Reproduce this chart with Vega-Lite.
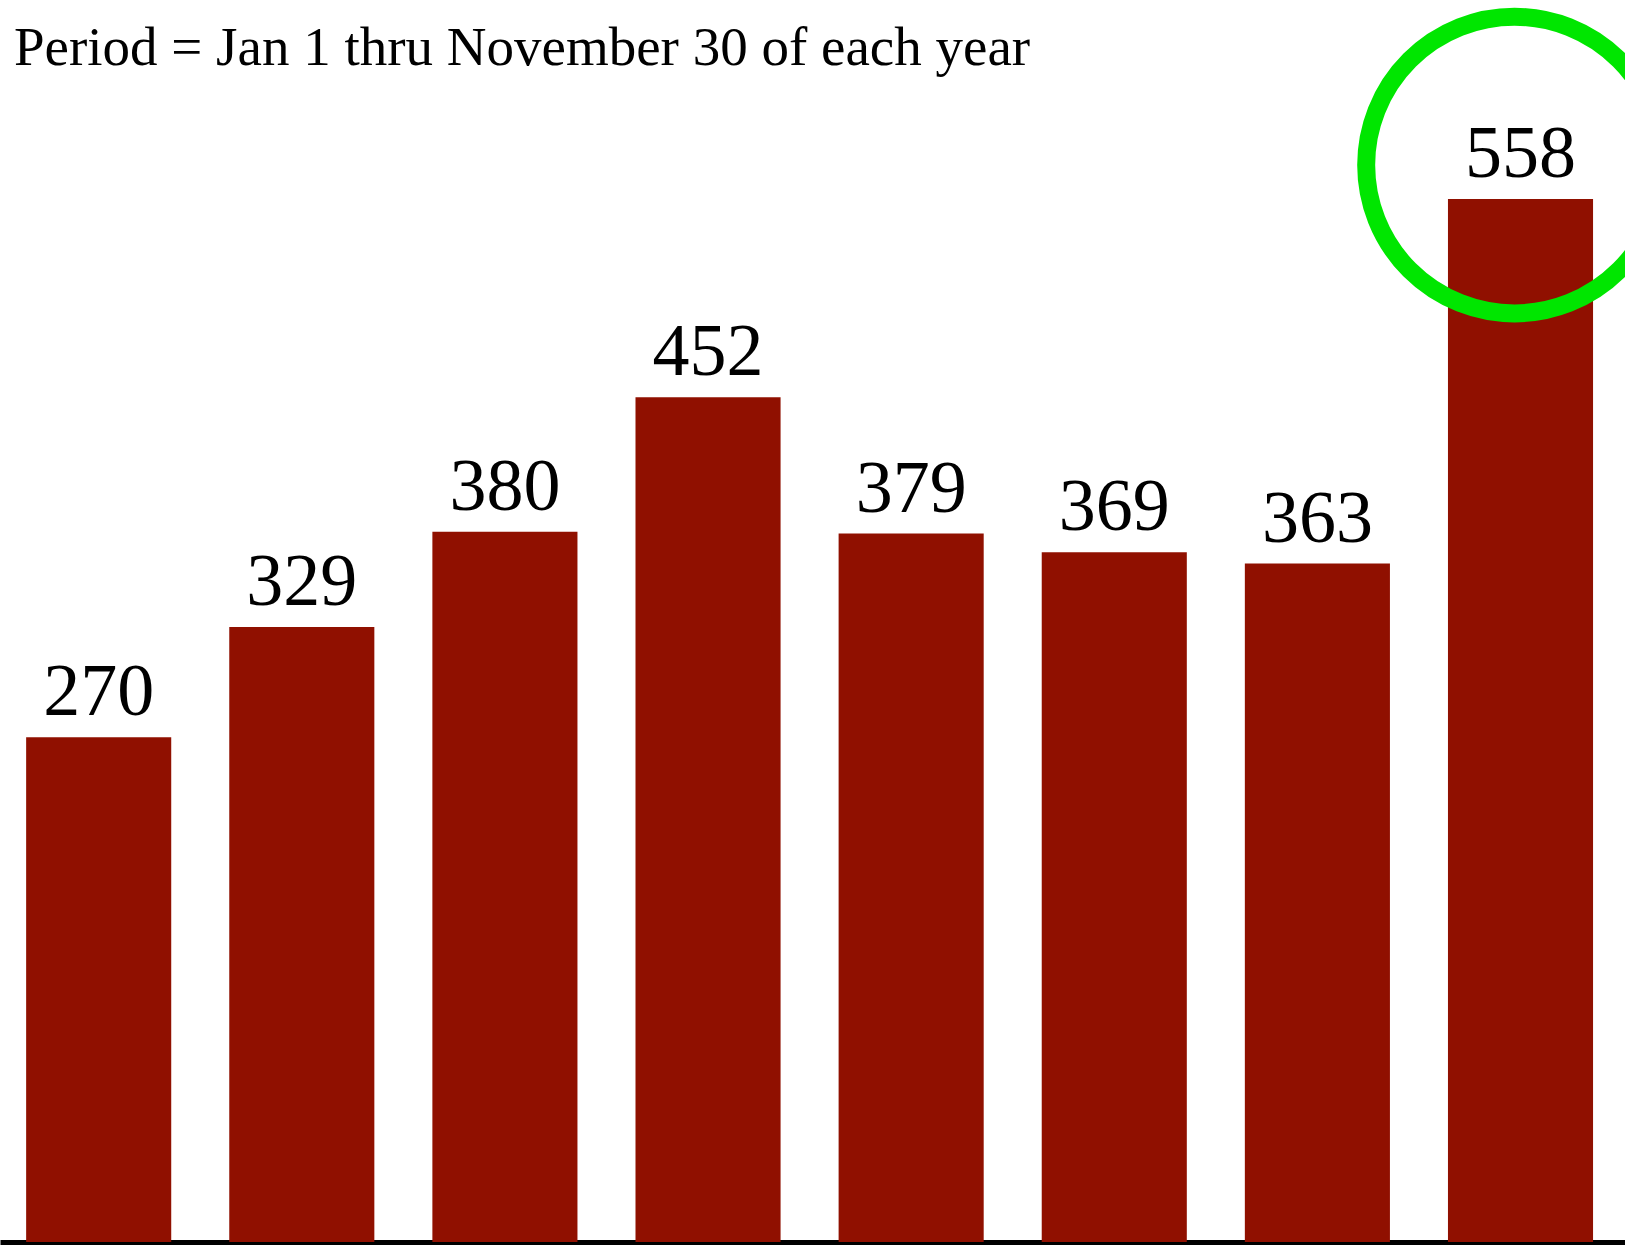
{
  "$schema": "https://vega.github.io/schema/vega-lite/v6.json",
  "width": 1625,
  "height": 1142,
  "autosize": "none",
  "padding": {"top": 100, "left": 0, "right": 0, "bottom": 3},
  "background": "white",
  "config": {"view": {"stroke": null}},
  "title": {
    "text": "Period = Jan 1 thru November 30 of each year",
    "anchor": "start",
    "frame": "group",
    "font": "Liberation Serif",
    "fontSize": 55,
    "fontWeight": "normal",
    "color": "black",
    "baseline": "alphabetic",
    "offset": 0,
    "dx": 14,
    "dy": 139
  },
  "data": {
    "values": [
      {"year": "2013", "count": 270},
      {"year": "2014", "count": 329},
      {"year": "2015", "count": 380},
      {"year": "2016", "count": 452},
      {"year": "2017", "count": 379},
      {"year": "2018", "count": 369},
      {"year": "2019", "count": 363},
      {"year": "2020", "count": 558}
    ]
  },
  "encoding": {
    "x": {
      "field": "year",
      "type": "ordinal",
      "scale": {"paddingInner": 0.2857, "paddingOuter": 0.143, "align": 0.45},
      "axis": {"title": null, "labels": false, "ticks": false, "domain": true, "domainColor": "black", "domainWidth": 5, "grid": false}
    },
    "y": {
      "field": "count",
      "type": "quantitative",
      "scale": {"domain": [0, 611], "nice": false, "zero": true},
      "axis": null
    }
  },
  "layer": [
    {"mark": {"type": "bar", "color": "#901000"}},
    {
      "mark": {"type": "text", "font": "Liberation Serif", "fontSize": 74, "color": "black", "baseline": "alphabetic", "align": "center", "dy": -22},
      "encoding": {"text": {"field": "count", "type": "quantitative"}}
    },
    {
      "transform": [{"filter": "datum.count == 558"}],
      "mark": {"type": "point", "shape": "circle", "filled": false, "size": 88000, "stroke": "#00e600", "strokeWidth": 18, "opacity": 1, "xOffset": -6, "yOffset": -34}
    }
  ]
}
